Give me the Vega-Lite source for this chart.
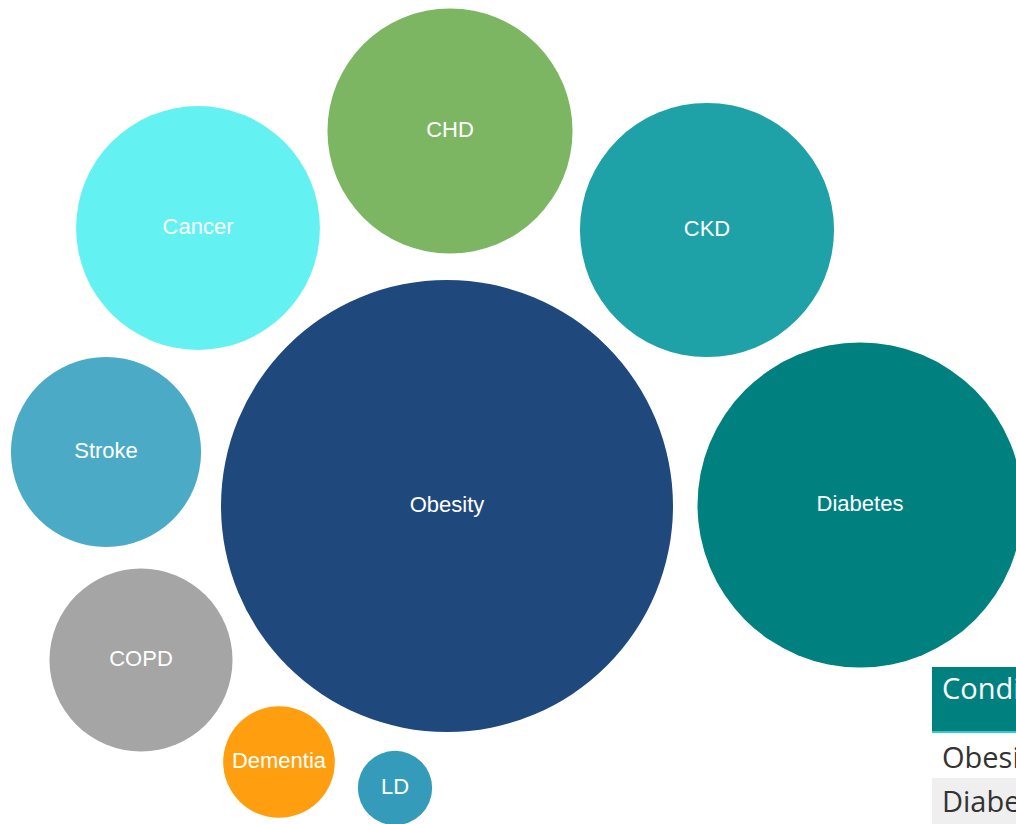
{
  "$schema": "https://vega.github.io/schema/vega-lite/v6.json",
  "width": 1016,
  "height": 824,
  "padding": 0,
  "autosize": {"type": "none"},
  "background": "white",
  "config": {"view": {"stroke": null}},
  "datasets": {
    "bubbles": [
      {"condition": "Obesity", "cx": 447, "cy": 506, "value": 100, "color": "#1F487C", "labelColor": "white"},
      {"condition": "Diabetes", "cx": 860, "cy": 505, "value": 51.7, "color": "#00807F", "labelColor": "white"},
      {"condition": "CKD", "cx": 707, "cy": 230, "value": 31.6, "color": "#1EA1A7", "labelColor": "white"},
      {"condition": "CHD", "cx": 450, "cy": 131, "value": 29.4, "color": "#7DB662", "labelColor": "white"},
      {"condition": "Cancer", "cx": 198, "cy": 228, "value": 29.1, "color": "#63F1F2", "labelColor": "white"},
      {"condition": "Stroke", "cx": 106, "cy": 452, "value": 17.7, "color": "#4BABC6", "labelColor": "white"},
      {"condition": "COPD", "cx": 141, "cy": 660, "value": 16.4, "color": "#A5A5A5", "labelColor": "white"},
      {"condition": "Dementia", "cx": 279, "cy": 762, "value": 6.1, "color": "#FF9F10", "labelColor": "white"},
      {"condition": "LD", "cx": 395, "cy": 788, "value": 2.7, "color": "#359BBA", "labelColor": "white"}
    ],
    "table": [
      {"cell": "Condition", "x0": 932, "x1": 1030, "y0": 667, "y1": 732, "ty": 690, "fill": "#00807F", "textColor": "white"},
      {"cell": "Obesity", "x0": 932, "x1": 1030, "y0": 734, "y1": 778, "ty": 759, "fill": "#FFFFFF", "textColor": "#333333"},
      {"cell": "Diabetes", "x0": 932, "x1": 1030, "y0": 778, "y1": 830, "ty": 803, "fill": "#EFEFEF", "textColor": "#333333"}
    ]
  },
  "layer": [
    {
      "data": {"name": "bubbles"},
      "mark": {"type": "circle", "opacity": 1},
      "encoding": {
        "x": {"field": "cx", "type": "quantitative", "scale": {"domain": [0, 1016], "nice": false, "zero": false}, "axis": null},
        "y": {"field": "cy", "type": "quantitative", "scale": {"domain": [0, 824], "nice": false, "zero": false, "reverse": true}, "axis": null},
        "size": {"field": "value", "type": "quantitative", "scale": {"type": "linear", "domain": [0, 100], "range": [0, 204304], "zero": true}, "legend": null},
        "color": {"field": "color", "type": "nominal", "scale": null}
      }
    },
    {
      "data": {"name": "bubbles"},
      "mark": {"type": "text", "font": "Liberation Sans", "fontSize": 22, "align": "center", "baseline": "middle", "dy": -1},
      "encoding": {
        "x": {"field": "cx", "type": "quantitative"},
        "y": {"field": "cy", "type": "quantitative"},
        "text": {"field": "condition"},
        "color": {"field": "labelColor", "type": "nominal", "scale": null}
      }
    },
    {
      "data": {"name": "table"},
      "mark": {"type": "rect"},
      "encoding": {
        "x": {"field": "x0", "type": "quantitative"},
        "x2": {"field": "x1"},
        "y": {"field": "y0", "type": "quantitative"},
        "y2": {"field": "y1"},
        "color": {"field": "fill", "type": "nominal", "scale": null}
      }
    },
    {
      "data": {"name": "table"},
      "mark": {"type": "rule", "stroke": "#33CCCC", "strokeWidth": 2},
      "transform": [{"filter": "datum.cell === 'Condition'"}],
      "encoding": {
        "x": {"field": "x0", "type": "quantitative"},
        "x2": {"field": "x1"},
        "y": {"field": "y1", "type": "quantitative"}
      }
    },
    {
      "data": {"name": "table"},
      "mark": {"type": "text", "font": "Open Sans", "fontSize": 29, "align": "left", "baseline": "middle", "dx": 10},
      "encoding": {
        "x": {"field": "x0", "type": "quantitative"},
        "y": {"field": "ty", "type": "quantitative"},
        "text": {"field": "cell"},
        "color": {"field": "textColor", "type": "nominal", "scale": null}
      }
    }
  ]
}
